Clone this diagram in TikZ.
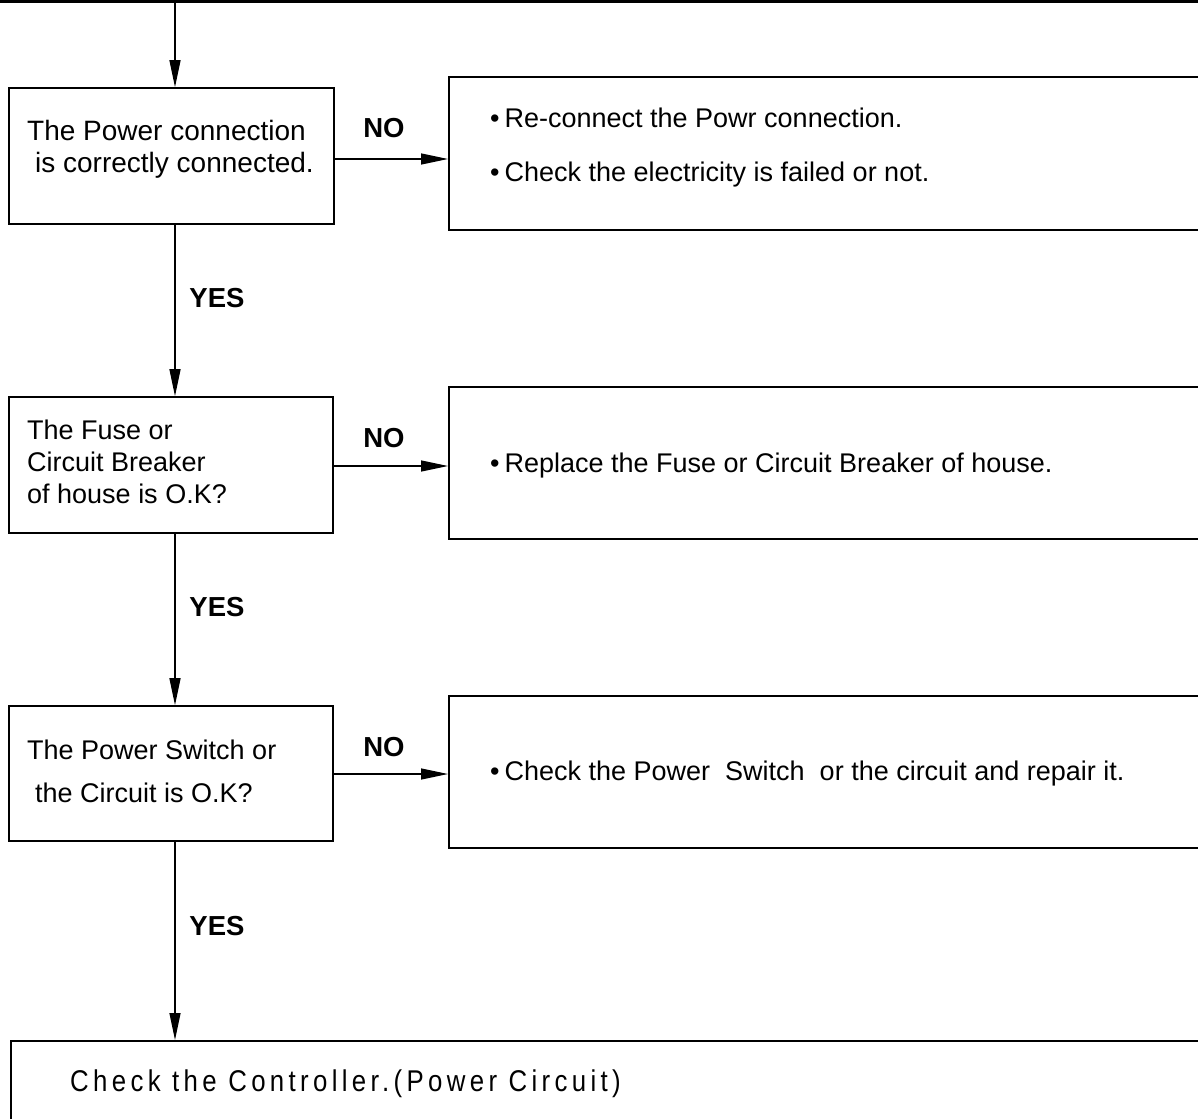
\documentclass[tikz,border=0pt]{standalone}
\usepackage{fontspec}
\setmainfont{Liberation Sans}
\newfontfamily\ctlfont[LetterSpace=14.5,FakeStretch=0.86]{Liberation Sans}
\usetikzlibrary{arrows.meta}
\begin{document}
\begin{tikzpicture}[x=1pt,y=-1pt,
  box/.style={draw,line width=1.6pt,rectangle,inner sep=0pt},
  txt/.style={anchor=west,inner sep=0pt,font=\fontsize{27}{32}\selectfont,align=left},
  lbl/.style={inner sep=0pt,font=\fontsize{27.5}{30}\selectfont\bfseries},
  arr/.style={line width=1.3pt,-{Triangle[length=27pt,width=11pt]}}]
\useasboundingbox (0,0) rectangle (1198,1118);
\clip (0,0) rectangle (1198,1118);
\draw[line width=2.6pt] (0,1.5) -- (1198,1.5);
\coordinate (top) at (175,1.5);
% left boxes
\node[box,minimum width=325pt,minimum height=136pt] (b1) at (171.5,156) {};
\node[box,minimum width=324pt,minimum height=136pt] (b2) at (171,465) {};
\node[box,minimum width=324pt,minimum height=135pt] (b3) at (171,773.5) {};
% right boxes
\node[box,anchor=north west,minimum width=780pt,minimum height=153pt] (r1) at (448,76) {};
\node[box,anchor=north west,minimum width=780pt,minimum height=152pt] (r2) at (448,386) {};
\node[box,anchor=north west,minimum width=780pt,minimum height=152pt] (r3) at (448,695) {};
\node[box,anchor=north west,minimum width=1210pt,minimum height=120pt] (r4) at (10,1040) {};
% texts
\node[txt,font=\fontsize{28}{32}\selectfont] (t1) at (27,149) {The Power connection\\[0pt]\hspace*{8pt}is correctly connected.};
\node[txt] (t2) at (27,462) {The Fuse or\\Circuit Breaker\\of house is O.K?};
\node[txt,font=\fontsize{27}{43}\selectfont] (t3) at (27,771) {The Power Switch or\\\hspace*{8pt}the Circuit is O.K?};
\node[txt,font=\fontsize{27}{54}\selectfont] (u1) at (490,148) {•\hspace{5pt}Re-connect the Powr connection.\\•\hspace{5pt}Check the electricity is failed or not.};
\node[txt] (u2) at (490,466) {•\hspace{5pt}Replace the Fuse or Circuit Breaker of house.};
\node[txt] (u3) at (490,774) {•\hspace{5pt}Check the Power\ \ Switch\ \ or the circuit and repair it.};
\node[txt,font=\fontsize{30}{30}\ctlfont] (u4) at (70,1084) {Check the Controller.(Power Circuit)};
% labels
\node[lbl] (n1) at (384,128) {NO};
\node[lbl] (n2) at (384,438) {NO};
\node[lbl] (n3) at (384,747) {NO};
\node[lbl] (y1) at (217,298) {YES};
\node[lbl] (y2) at (217,607) {YES};
\node[lbl] (y3) at (217,926) {YES};
% connectors
\draw[arr] (top) -- (b1.north -| top);
\draw[arr] (b1.south -| top) -- (b2.north -| top);
\draw[arr] (b2.south -| top) -- (b3.north -| top);
\draw[arr] (b3.south -| top) -- (r4.north -| top);
\draw[arr] (b1.east |- 0,159) -- (r1.west |- 0,159);
\draw[arr] (b2.east |- 0,466) -- (r2.west |- 0,466);
\draw[arr] (b3.east |- 0,774) -- (r3.west |- 0,774);
\end{tikzpicture}
\end{document}
